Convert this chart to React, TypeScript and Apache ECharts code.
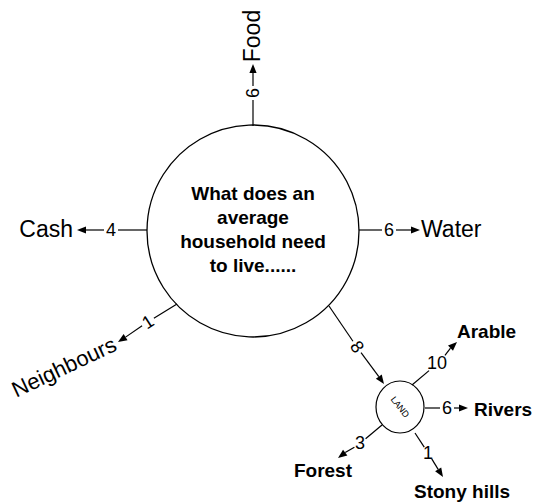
import React, { useEffect, useRef } from "react";
import * as echarts from "echarts";

const centerQuestion = ["What does an", "average", "household need", "to live......"];
const needLabels = ["Food", "Water", "Cash", "Neighbours", "LAND"];
const needValues = [6, 6, 4, 1, 8];
const landLabels = ["Arable", "Rivers", "Stony hills", "Forest"];
const landValues = [10, 6, 1, 3];

const FONT = "'Liberation Sans', Arial, Helvetica, sans-serif";
type P = [number, number];

function branch(from: P, num: P, tip: P, value: number, numRot: number, gap: number): any[] {
  const dx = tip[0] - from[0];
  const dy = tip[1] - from[1];
  const len = Math.sqrt(dx * dx + dy * dy);
  const ux = dx / len;
  const uy = dy / len;
  const nx = -uy;
  const ny = ux;
  const a1: P = [num[0] - ux * gap, num[1] - uy * gap];
  const a2: P = [num[0] + ux * gap, num[1] + uy * gap];
  const L = 9;
  const w = 3.6;
  const base: P = [tip[0] - ux * L, tip[1] - uy * L];
  const st = { stroke: "#000", lineWidth: 1.2 };
  return [
    { type: "line", shape: { x1: from[0], y1: from[1], x2: a1[0], y2: a1[1] }, style: st },
    { type: "line", shape: { x1: a2[0], y1: a2[1], x2: base[0], y2: base[1] }, style: st },
    {
      type: "polygon",
      shape: {
        points: [
          tip,
          [base[0] + nx * w, base[1] + ny * w],
          [base[0] - nx * w, base[1] - ny * w],
        ],
      },
      style: { fill: "#000" },
    },
    {
      type: "text",
      x: num[0],
      y: num[1],
      rotation: numRot,
      style: {
        text: String(value),
        fontSize: 18,
        fontFamily: FONT,
        align: "center",
        verticalAlign: "middle",
        fill: "#000",
      },
    },
  ];
}

function label(text: string, x: number, y: number, opts: any = {}): any {
  return {
    type: "text",
    x,
    y,
    rotation: opts.rot || 0,
    style: {
      text,
      fontSize: opts.size || 23,
      fontWeight: opts.bold ? "bold" : "normal",
      fontFamily: FONT,
      align: opts.align || "center",
      verticalAlign: "middle",
      fill: "#000",
    },
  };
}

export default function App() {
  const ref = useRef<HTMLDivElement>(null);
  useEffect(() => {
    if (!ref.current) return;
    const chart = echarts.init(ref.current, undefined, { renderer: "svg" });
    const elements: any[] = [];
    // big circle
    elements.push({
      type: "circle",
      shape: { cx: 253, cy: 231, r: 106 },
      style: { fill: "#fff", stroke: "#000", lineWidth: 1.3 },
    });
    elements.push({
      type: "text",
      x: 253,
      y: 229,
      style: {
        text: centerQuestion.join("\n"),
        fontSize: 19,
        lineHeight: 24,
        fontWeight: "bold",
        fontFamily: FONT,
        align: "center",
        verticalAlign: "middle",
        fill: "#000",
      },
    });
    // Food
    elements.push(...branch([253, 126], [253, 93], [253, 64], needValues[0], Math.PI / 2, 7));
    elements.push(label(needLabels[0], 252, 36, { rot: Math.PI / 2 }));
    // Water
    elements.push(...branch([359, 230], [389, 230], [420, 230], needValues[1], 0, 7));
    elements.push(label(needLabels[1], 421, 229, { align: "left" }));
    // Cash
    elements.push(...branch([147, 230], [111, 230], [77, 230], needValues[2], 0, 7));
    elements.push(label(needLabels[2], 73, 229, { align: "right" }));
    // Neighbours
    elements.push(...branch([177, 304], [148, 322], [118, 342], needValues[3], 0.57, 7));
    elements.push(label(needLabels[3], 64, 367, { rot: 0.44, size: 22 }));
    // Land
    elements.push(...branch([329, 306], [357, 347], [384, 384], needValues[4], -0.96, 7));
    elements.push({
      type: "ellipse",
      shape: { cx: 400, cy: 407, rx: 24, ry: 26 },
      style: { fill: "#fff", stroke: "#000", lineWidth: 1.2 },
    });
    elements.push(label(needLabels[4], 400, 407, { rot: -0.9, size: 9 }));
    // Arable
    elements.push(...branch([412, 385], [437, 363], [457, 342], landValues[0], 0, 11));
    elements.push(label(landLabels[0], 457, 331, { align: "left", bold: true, size: 19 }));
    // Rivers
    elements.push(...branch([425, 408], [447, 408], [468, 408], landValues[1], 0, 7));
    elements.push(label(landLabels[1], 474, 409, { align: "left", bold: true, size: 19 }));
    // Stony hills
    elements.push(...branch([415, 433], [428, 453], [443, 477], landValues[2], 0, 7));
    elements.push(label(landLabels[2], 462, 491, { bold: true, size: 19 }));
    // Forest
    elements.push(...branch([382, 425], [360, 443], [338, 458], landValues[3], 0, 7));
    elements.push(label(landLabels[3], 352, 470, { align: "right", bold: true, size: 19 }));

    chart.setOption({
      animation: false,
      backgroundColor: "#fff",
      graphic: { elements },
    });
    return () => chart.dispose();
  }, []);
  return (
    <div
      ref={ref}
      style={{ position: "absolute", left: 0, top: 0, width: 533, height: 502, background: "#fff" }}
    />
  );
}
